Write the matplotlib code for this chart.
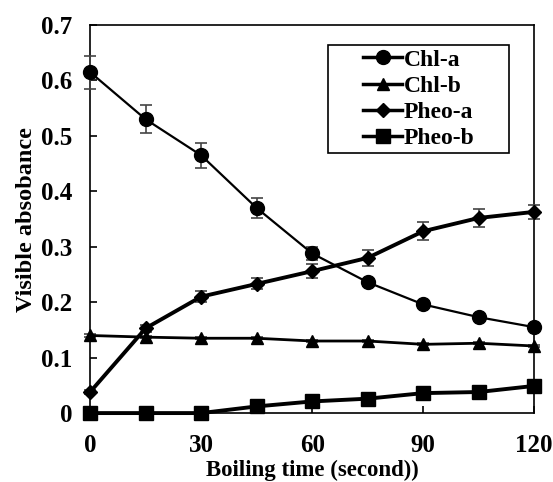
import numpy as np
import matplotlib
matplotlib.use("Agg")
from matplotlib import pyplot as plt
from matplotlib.lines import Line2D
from matplotlib.patches import Rectangle

time_s = [0, 15, 30, 45, 60, 75, 90, 105, 120]
chl_a = [0.615, 0.530, 0.465, 0.370, 0.288, 0.236, 0.196, 0.173, 0.155]
chl_a_err = [0.030, 0.025, 0.022, 0.018, 0.012, 0.006, 0.005, 0.005, 0.005]
chl_b = [0.140, 0.137, 0.135, 0.135, 0.130, 0.130, 0.124, 0.126, 0.121]
chl_b_err = [0.002, 0.002, 0.002, 0.002, 0.002, 0.002, 0.002, 0.002, 0.002]
pheo_a = [0.038, 0.153, 0.210, 0.233, 0.256, 0.280, 0.328, 0.352, 0.363]
pheo_a_err = [0.004, 0.006, 0.010, 0.010, 0.013, 0.014, 0.016, 0.017, 0.012]
pheo_b = [0.000, 0.000, 0.000, 0.012, 0.021, 0.026, 0.036, 0.038, 0.049]
pheo_b_err = [0.002, 0.002, 0.002, 0.003, 0.003, 0.003, 0.003, 0.003, 0.003]

plt.rcParams['font.family'] = ['Liberation Serif', 'DejaVu Serif']
plt.rcParams['font.weight'] = 'bold'

fig = plt.figure(figsize=(5.53, 4.82), dpi=100)
ax = fig.add_axes([0.163, 0.143, 0.803, 0.805])

series = [
    (chl_a, chl_a_err, 'o', 10, 'Chl-a', 1.6),
    (chl_b, chl_b_err, '^', 9, 'Chl-b', 2.0),
    (pheo_a, pheo_a_err, 'D', 7, 'Pheo-a', 2.8),
    (pheo_b, pheo_b_err, 's', 9.5, 'Pheo-b', 2.8),
]
handles = []
for vals, err, mk, ms, lab, lw in series:
    ax.errorbar(time_s, vals, yerr=err, color='black', ecolor='#444444',
                elinewidth=1.2, capsize=4, capthick=1.2,
                marker=mk, markersize=ms, lw=lw, clip_on=False, zorder=3)
    handles.append(Line2D([], [], color='black', marker=mk, markersize=ms, lw=2.5, label=lab))

ax.set_xlim(0, 120)
ax.set_ylim(0, 0.7)
ax.set_xticks([0, 30, 60, 90, 120])
ax.set_yticks(np.arange(0, 0.71, 0.1))
ax.set_yticklabels(['0', '0.1', '0.2', '0.3', '0.4', '0.5', '0.6', '0.7'])
ax.tick_params(direction='in', length=5, width=1.2, labelsize=18)
ax.tick_params(axis='x', pad=15)
ax.tick_params(axis='y', pad=13)
for s in ax.spines.values():
    s.set_linewidth(1.2)

ax.set_xlabel('Boiling time (second))', fontsize=16.5, fontweight='bold', labelpad=2)
ax.set_ylabel('Visible absobance', fontsize=17.5, fontweight='bold', labelpad=3)

# legend: boxed area wider than its content, as in the original
ax.add_patch(Rectangle((0.536, 0.670), 0.408, 0.278, transform=ax.transAxes,
                       fill=False, edgecolor='black', lw=1.2, zorder=4))
leg = ax.legend(handles=handles, loc='center', bbox_to_anchor=(0.74, 0.809),
                frameon=False, handlelength=1.65, handletextpad=0.05,
                labelspacing=0.2, borderpad=0, prop={'weight': 'bold', 'size': 17})

fig.savefig('out.png', dpi=100)
